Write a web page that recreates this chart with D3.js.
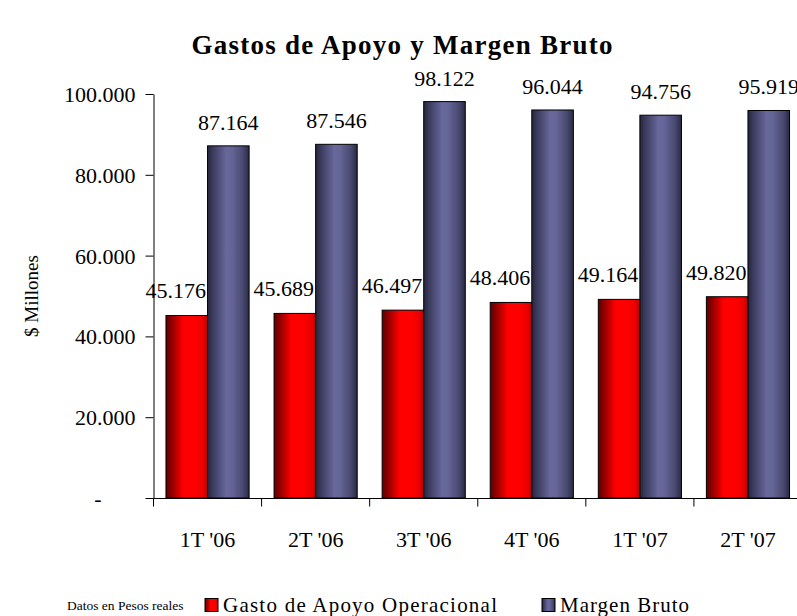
<!DOCTYPE html>
<html><head><meta charset="utf-8">
<script src="https://cdn.jsdelivr.net/npm/d3@7"></script>
<style>
body{margin:0;background:#fff}
svg{display:block}
</style>
</head><body><svg id="c" width="797" height="616"></svg>
<script>
const categories = ["1T '06","2T '06","3T '06","4T '06","1T '07","2T '07"];
const seriesNames = ["Gasto de Apoyo Operacional","Margen Bruto"];
const gastoApoyo = [45176,45689,46497,48406,49164,49820];
const margenBruto = [87164,87546,98122,96044,94756,95919];
const yTicks = [0,20000,40000,60000,80000,100000];
const chartTitle = "Gastos de Apoyo y Margen Bruto";
const yTitle = "$ Millones";
const footnote = "Datos en Pesos reales";

const FONT = "'Liberation Serif','Times New Roman',serif";
const svg = d3.select("#c");
const loc = d3.formatLocale({decimal:",",thousands:".",grouping:[3],currency:["$",""]});
const fmt = loc.format(",");

const x = d3.scaleBand().domain(categories).range([153.5, 802]).padding(0);
const x1 = d3.scaleBand().domain([0,1]).range([0, x.bandwidth()]).paddingInner(0).paddingOuter(0.3);
const y = d3.scaleLinear().domain([0,100000]).range([498, 94]);

const defs = svg.append("defs");
function grad(id, stops){
  const g = defs.append("linearGradient").attr("id",id).attr("x1","0").attr("x2","1").attr("y1","0").attr("y2","0");
  stops.forEach(s=>g.append("stop").attr("offset",s[0]).attr("stop-color",s[1]));
}
grad("gRed",[[0,"#5e0000"],[0.18,"#a00000"],[0.42,"#ff0000"],[0.7,"#ff0000"],[0.9,"#e80000"],[1,"#b80000"]]);
grad("gBlue",[[0,"#26263e"],[0.15,"#3e3e62"],[0.45,"#68689c"],[0.6,"#646496"],[0.85,"#484870"],[1,"#2a2a44"]]);

function T(sel){ return sel.style("font-family",FONT).style("fill","#000"); }

// title
T(svg.append("text")).attr("x",402).attr("y",54).attr("text-anchor","middle")
  .style("font-size","27px").style("font-weight","bold").attr("textLength",421).attr("lengthAdjust","spacing")
  .text(chartTitle);

// y axis
const yAxis = svg.append("g").attr("transform","translate(153.5,0)")
  .call(d3.axisLeft(y).tickValues(yTicks).tickSize(8).tickSizeOuter(0).tickPadding(10)
    .tickFormat(d => d===0 ? "-" : fmt(d)));
T(yAxis.selectAll("text")).style("font-size","22px").attr("dy","0.34em");
yAxis.selectAll(".tick").filter(d=>d===0).select("text").attr("x",-52);
yAxis.selectAll("line,path").attr("stroke","#000");

// x axis
const xAxis = svg.append("g").attr("transform","translate(0,498.5)")
  .call(d3.axisBottom(x).tickSize(0).tickSizeOuter(0).tickPadding(0));
xAxis.select(".domain").attr("stroke","#000");
T(xAxis.selectAll("text")).style("font-size","22px").attr("y",48).attr("dy",0);
const bounds = categories.map(c=>x(c)).concat([x.range()[1]]);
xAxis.selectAll("line.bnd").data(bounds).join("line").attr("class","bnd")
  .attr("x1",d=>d).attr("x2",d=>d).attr("y1",0).attr("y2",8).attr("stroke","#000");
xAxis.select(".domain").attr("d",`M${x.range()[0]},0H${x.range()[1]}`);

// bars
const series = [gastoApoyo, margenBruto];
const fills = ["url(#gRed)","url(#gBlue)"];
series.forEach((vals,si)=>{
  svg.append("g").selectAll("rect").data(vals).join("rect")
    .attr("x",(d,i)=>x(categories[i])+x1(si))
    .attr("width",x1.bandwidth())
    .attr("y",d=>y(d))
    .attr("height",d=>y(0)-y(d))
    .attr("fill",fills[si]).attr("stroke","#000").attr("stroke-width",1);
});
// value labels
const labOff = [-11, 0];
const labUp = [17, 16];
series.forEach((vals,si)=>{
  T(svg.append("g").selectAll("text").data(vals).join("text"))
    .attr("x",(d,i)=>x(categories[i])+x1(si)+x1.bandwidth()/2+labOff[si])
    .attr("y",d=>y(d)-labUp[si])
    .attr("text-anchor","middle").style("font-size","22px")
    .text(d=>fmt(d));
});

// y title
T(svg.append("text")).attr("transform","translate(38,296) rotate(-90)").attr("text-anchor","middle")
  .style("font-size","19px").text(yTitle);

// legend
const leg = svg.append("g");
const legX = [205, 542];
seriesNames.forEach((n,i)=>{
  leg.append("rect").attr("x",legX[i]).attr("y",598.5).attr("width",13).attr("height",13)
    .attr("fill",fills[i]).attr("stroke","#000").attr("stroke-width",1);
  T(leg.append("text")).attr("x",legX[i]+18).attr("y",612).style("font-size","21px")
    .attr("textLength", i===0?274:129).attr("lengthAdjust","spacing").text(n);
});

// footnote
T(svg.append("text")).attr("x",67).attr("y",610).style("font-size","13.5px").text(footnote);
</script>
</body></html>
